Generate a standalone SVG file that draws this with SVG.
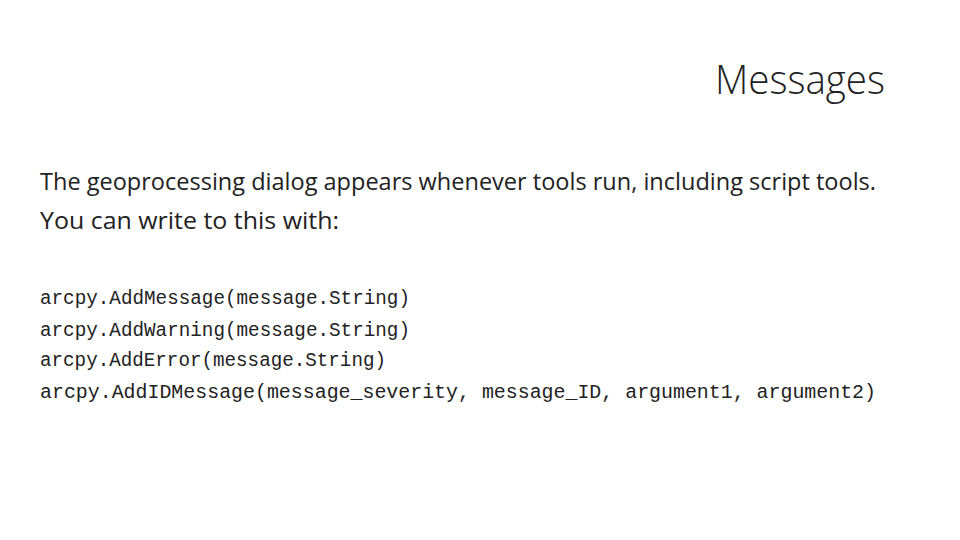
<svg xmlns="http://www.w3.org/2000/svg" width="960" height="540" viewBox="0 0 960 540">
<style>
.t{font-family:"Open Sans","Liberation Sans",sans-serif;fill:#222}
.c{font-family:"Liberation Mono",monospace;font-size:19.9px;fill:#222}
</style>
<rect width="960" height="540" fill="#fff"/>
<text class="t" x="885" y="94" font-size="40" text-anchor="end" font-weight="300" textLength="170" lengthAdjust="spacingAndGlyphs">Messages</text>
<text class="t" x="40" y="190" font-size="23" textLength="836" lengthAdjust="spacingAndGlyphs">The geoprocessing dialog appears whenever tools run, including script tools.</text>
<text class="t" x="40" y="229" font-size="23" textLength="299" lengthAdjust="spacingAndGlyphs">You can write to this with:</text>
<text class="c" x="40" y="304" textLength="370" lengthAdjust="spacingAndGlyphs">arcpy.AddMessage(message.String)</text>
<text class="c" x="40" y="336" textLength="370" lengthAdjust="spacingAndGlyphs">arcpy.AddWarning(message.String)</text>
<text class="c" x="40" y="366" textLength="346" lengthAdjust="spacingAndGlyphs">arcpy.AddError(message.String)</text>
<text class="c" x="40" y="398" textLength="836" lengthAdjust="spacingAndGlyphs">arcpy.AddIDMessage(message_severity, message_ID, argument1, argument2)</text>
</svg>
